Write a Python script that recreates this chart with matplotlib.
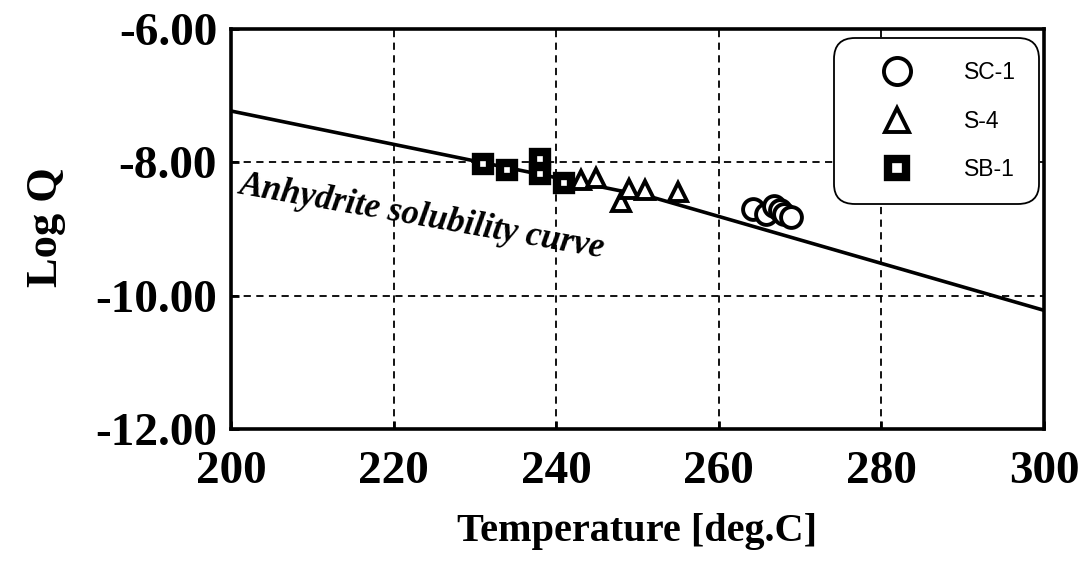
import numpy as np
import matplotlib.pyplot as plt

plt.rcParams['font.family'] = ['Liberation Serif', 'DejaVu Serif']

# anhydrite solubility curve (break points)
curve_t = [200, 252, 300]
curve_q = [-7.23, -8.53, -10.22]

# SC-1
sc1_t = [264.2, 265.8, 266.8, 267.5, 268.0, 268.9]
sc1_q = [-8.70, -8.78, -8.65, -8.72, -8.78, -8.82]
# S-4
s4_t = [243.1, 244.9, 248.0, 249.0, 250.9, 255.0]
s4_q = [-8.27, -8.23, -8.60, -8.40, -8.41, -8.45]
# SB-1
sb1_t = [231.0, 233.9, 238.0, 238.0, 240.9]
sb1_q = [-8.03, -8.12, -7.95, -8.18, -8.31]

fig = plt.figure(figsize=(10.85, 5.71), dpi=100)
ax = fig.add_axes([0.2129, 0.2487, 0.7493, 0.7005])

ax.plot(curve_t, curve_q, color='black', lw=2.6, zorder=2)

ax.plot(sc1_t, sc1_q, marker='o', ms=15, mew=2.8, ls='none',
        mfc='white', mec='black', label='SC-1', zorder=3)
ax.plot(s4_t, s4_q, marker='^', ms=13.5, mew=2.8, ls='none',
        mfc='white', mec='black', label='S-4', zorder=3)
ax.plot(sb1_t, sb1_q, marker='s', ms=10.5, mew=6, ls='none',
        mfc='white', mec='black', label='SB-1', zorder=3)

ax.set_xlim(200, 300)
ax.set_ylim(-12, -6)
ax.set_xticks([200, 220, 240, 260, 280, 300])
ax.set_yticks([-12, -10, -8, -6])
ax.set_yticklabels(['-12.00', '-10.00', '-8.00', '-6.00'])
ax.grid(True, color='black', ls=(0, (4, 3)), lw=1.3)
ax.tick_params(direction='in', length=6, width=2)
ax.tick_params(axis='x', pad=16)
ax.tick_params(axis='y', pad=10)
for lab in ax.get_xticklabels() + ax.get_yticklabels():
    lab.set_fontsize(34)
    lab.set_fontweight('bold')
for s in ax.spines.values():
    s.set_linewidth(2.6)

ax.set_xlabel('Temperature [deg.C]', fontsize=29, fontweight='bold')
ax.xaxis.set_label_coords(0.5, -0.21)
ax.set_ylabel('Log Q', fontsize=32, fontweight='bold')
ax.yaxis.set_label_coords(-0.203, 0.506)

ax.text(200.86, -8.46, 'Anhydrite solubility curve', fontsize=25, fontstyle='italic',
        fontweight='bold', rotation=-10, rotation_mode='anchor',
        ha='left', va='baseline')

leg = ax.legend(loc='upper right', bbox_to_anchor=(0.994, 0.977), frameon=True,
                prop={'family': 'Liberation Sans', 'size': 16.5},
                borderpad=1.0, labelspacing=1.12, handlelength=3.5,
                handletextpad=1.17, borderaxespad=0, fancybox=True,
                markerscale=1.3)
frame = leg.get_frame()
frame.set_edgecolor('black')
frame.set_linewidth(1.3)
frame.set_alpha(1)
frame.set_boxstyle('round', pad=0, rounding_size=0.9)

fig.savefig('out.png', dpi=100)
